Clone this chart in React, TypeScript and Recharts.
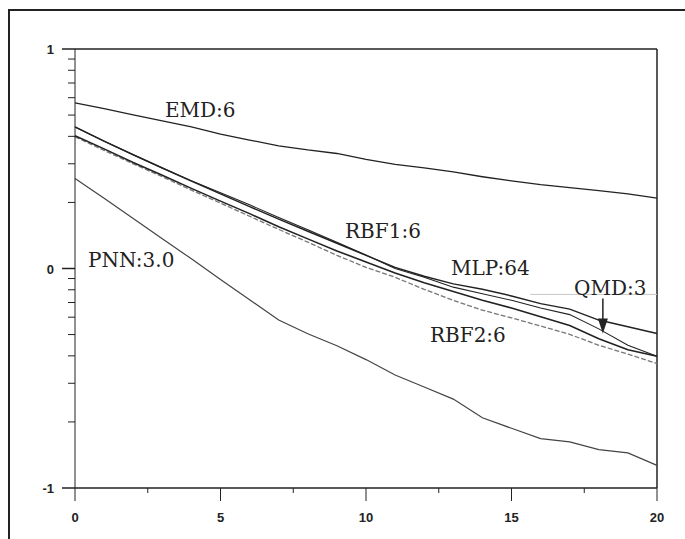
import React from "react";
import {
  LineChart,
  Line,
  XAxis,
  YAxis,
  ReferenceLine,
  ReferenceDot,
} from "recharts";

// x positions (0..20) and series values (log10 units, as drawn)
const steps = [0, 1, 2, 3, 4, 5, 6, 7, 8, 9, 10, 11, 12, 13, 14, 15, 16, 17, 18, 19, 20];
const emd = [0.755, 0.728, 0.7, 0.673, 0.645, 0.612, 0.585, 0.559, 0.54, 0.524, 0.497, 0.474, 0.458, 0.44, 0.418, 0.399, 0.382, 0.368, 0.355, 0.34, 0.321];
const qmd = [0.645, 0.58, 0.518, 0.458, 0.398, 0.34, 0.282, 0.225, 0.17, 0.115, 0.06, 0.005, -0.035, -0.07, -0.095, -0.125, -0.16, -0.185, -0.235, -0.265, -0.296];
const rbf1 = [0.645, 0.58, 0.518, 0.458, 0.4, 0.345, 0.29, 0.232, 0.176, 0.12, 0.062, 0.0, -0.04, -0.085, -0.115, -0.145, -0.18, -0.21, -0.275, -0.35, -0.4];
const mlp = [0.605, 0.545, 0.483, 0.425, 0.365, 0.307, 0.25, 0.19, 0.135, 0.08, 0.03, -0.02, -0.065, -0.105, -0.145, -0.18, -0.22, -0.26, -0.32, -0.37, -0.4];
const rbf2 = [0.6, 0.538, 0.477, 0.418, 0.357, 0.298, 0.238, 0.178, 0.12, 0.06, 0.005, -0.04, -0.095, -0.145, -0.19, -0.225, -0.262, -0.3, -0.35, -0.39, -0.433];
const pnn = [0.41, 0.32, 0.228, 0.136, 0.044, -0.05, -0.142, -0.235, -0.297, -0.352, -0.415, -0.485, -0.54, -0.595, -0.68, -0.728, -0.775, -0.79, -0.825, -0.84, -0.897];

const xTicks = [0, 2.5, 5, 7.5, 10, 12.5, 15, 17.5, 20];
const xLabels = [0, 5, 10, 15, 20];
const decades = [-1, 0, 1];
const minorMultipliers = [2, 3, 4, 5, 6, 7, 8, 9];

// curve labels: [text, x, y]
const curveLabels: [string, number, number][] = [
  ["EMD:6", 3.09, 0.692],
  ["PNN:3.0", 0.45, 0.009],
  ["RBF1:6", 9.28, 0.141],
  ["MLP:64", 12.92, -0.03],
  ["QMD:3", 17.15, -0.123],
  ["RBF2:6", 12.2, -0.333],
];
const arrowX = 18.14;
const arrowFrom = -0.137;
const arrowTip = -0.296;
const boxLine = { y: -0.118, x1: 15.64, x2: 20 };

const yTicks: number[] = [];
decades.forEach((d) => {
  yTicks.push(d);
  if (d < 1) minorMultipliers.forEach((m) => yTicks.push(d + Math.log10(m)));
});

const data = steps.map((s, i) => ({
  s,
  emd: emd[i],
  qmd: qmd[i],
  rbf1: rbf1[i],
  mlp: mlp[i],
  rbf2: rbf2[i],
  pnn: pnn[i],
}));

const tickFont = "'Liberation Sans', Arial, sans-serif";
const labelFont = "'DejaVu Serif', serif";
const ink = "#222";

function XTick(props: any) {
  const { x, y, payload } = props;
  const major = xLabels.includes(payload.value);
  return (
    <g>
      <line x1={x} x2={x} y1={y} y2={y + (major ? 13 : 5)} stroke={ink} strokeWidth={1} />
      {major && (
        <text x={x} y={y + 34} textAnchor="middle" fontFamily={tickFont} fontWeight="bold" fontSize={13} fill={ink}>
          {payload.value}
        </text>
      )}
    </g>
  );
}

function YTick(props: any) {
  const { x, y, payload } = props;
  const major = Number.isInteger(payload.value);
  return (
    <g>
      <line x1={x - (major ? 13 : 7)} x2={x} y1={y} y2={y} stroke={ink} strokeWidth={major ? 1.5 : 1} />
      {major && (
        <text x={x - 21} y={y + 5} textAnchor="end" fontFamily={tickFont} fontWeight="bold" fontSize={13} fill={ink}>
          {payload.value}
        </text>
      )}
    </g>
  );
}

const labelShape = (text: string) => (p: any) => (
  <text x={p.cx} y={p.cy} fontFamily={labelFont} fontSize={20} fill={ink}>
    {text}
  </text>
);

const arrowHead = (p: any) => (
  <path d={`M${p.cx},${p.cy} L${p.cx - 5},${p.cy - 15} L${p.cx + 5},${p.cy - 15} Z`} fill={ink} />
);

export default function App() {
  return (
    <div style={{ position: "absolute", left: 0, top: 0, width: 685, height: 539, background: "#fff", overflow: "hidden" }}>
      <div
        style={{
          position: "absolute",
          left: 8,
          top: 9,
          width: 700,
          height: 560,
          borderTop: `2px solid ${ink}`,
          borderLeft: `2px solid ${ink}`,
        }}
      />
      <div style={{ position: "absolute", left: 0, top: 0 }}>
        <LineChart width={685} height={539} data={data} margin={{ top: 49, right: 28, bottom: 21, left: 35 }}>
          <XAxis
            dataKey="s"
            type="number"
            domain={[0, 20]}
            ticks={xTicks}
            interval={0}
            tickSize={0}
            tickMargin={0}
            tick={<XTick />}
            tickLine={false}
            axisLine={{ stroke: ink, strokeWidth: 1.5 }}
            height={30}
          />
          <YAxis
            type="number"
            domain={[-1, 1]}
            ticks={yTicks}
            interval={0}
            tickSize={0}
            tickMargin={0}
            tick={<YTick />}
            tickLine={false}
            axisLine={{ stroke: ink, strokeWidth: 1 }}
            width={40}
          />
          <ReferenceLine y={1} stroke={ink} strokeWidth={1.5} />
          <ReferenceLine x={20} stroke={ink} strokeWidth={1.5} />
          <ReferenceLine
            segment={[{ x: boxLine.x1, y: boxLine.y }, { x: boxLine.x2, y: boxLine.y }]}
            stroke="#c8c8c8"
            strokeWidth={1}
          />
          <Line dataKey="emd" stroke={ink} strokeWidth={1.3} dot={false} isAnimationActive={false} />
          <Line dataKey="pnn" stroke="#444" strokeWidth={1.2} dot={false} isAnimationActive={false} />
          <Line dataKey="rbf2" stroke="#777" strokeWidth={1.3} strokeDasharray="5 2" dot={false} isAnimationActive={false} />
          <Line dataKey="mlp" stroke={ink} strokeWidth={1.6} dot={false} isAnimationActive={false} />
          <Line dataKey="rbf1" stroke={ink} strokeWidth={1.1} dot={false} isAnimationActive={false} />
          <Line dataKey="qmd" stroke={ink} strokeWidth={1.5} dot={false} isAnimationActive={false} />
          <ReferenceLine
            segment={[{ x: arrowX, y: arrowFrom }, { x: arrowX, y: arrowTip + 0.04 }]}
            stroke={ink}
            strokeWidth={1.5}
          />
          <ReferenceDot x={arrowX} y={arrowTip} r={1} shape={arrowHead} />
          {curveLabels.map(([t, x, y]) => (
            <ReferenceDot key={t} x={x} y={y} r={1} shape={labelShape(t)} />
          ))}
        </LineChart>
      </div>
    </div>
  );
}
